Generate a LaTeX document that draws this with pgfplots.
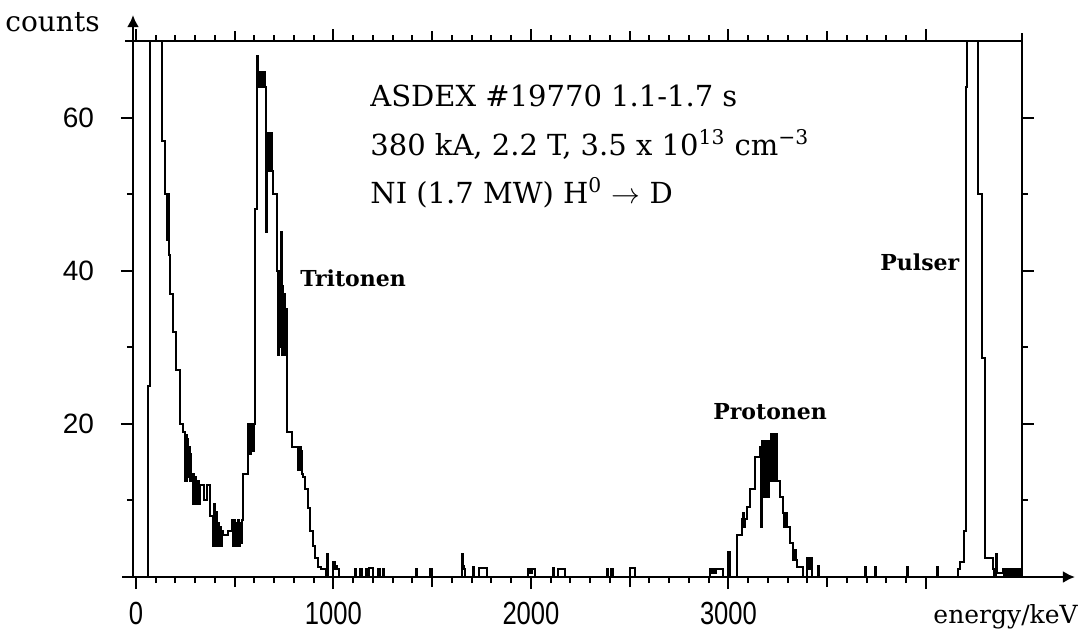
\documentclass[border=0pt]{standalone}
\usepackage{fontspec}
\setmainfont{DejaVu Serif}
\newfontfamily\ticksans{Liberation Sans}
\newfontfamily\ticksanscond[FakeStretch=0.8]{Liberation Sans}
\usepackage{pgfplots}
\usepackage{pgfplotstable}
\pgfplotsset{compat=1.18}
\usetikzlibrary{arrows.meta}

% Pulse-height spectrum: left edge of each channel group (keV) and counts
\pgfplotstableread{
E N
-15 0
62 25
71 90
132 57
147 50
157 44
160 50
163 44
166 50
169 42
172 37
187 32
203 27
223 20
238 19
248 12.5
252 18.5
256 12.5
260 18
264 13
268 17
272 12.5
276 16
280 12.5
284 13.5
288 9.5
292 13.5
296 10
300 13
304 9.5
308 12.5
312 10
316 12.5
320 9.5
324 12
345 10
360 12
375 8
390 4
395 9.5
400 4
405 8.5
410 4
415 7
420 4
425 6.5
430 4
435 6
440 5.5
465 6
486 7.5
491 4
496 7.5
501 4
506 7
511 4
516 7.5
521 4
526 7
531 4.5
536 7.5
542 13.5
567 20
571 16
575 20
579 16
583 20
587 16.5
591 20
595 16.5
599 20
603 48
613 68
620 64
624 66
628 64
632 66
636 64
640 66
644 64
648 66
652 64
656 45
661 58
665 53
669 58
673 53
677 57.5
681 53
685 58
689 53
694 50
714 40
719 29
723 40
727 30
731 39
735 45
739 29
743 38
747 30
751 37
755 29
759 35
763 30
767 19
792 17
818 14
822 17
826 14
830 17
834 14
838 16.5
842 13.5
846 13
858 11.5
870 9
883 6
896 4
909 2.5
922 1.3
935 1
962 0
966 3
971 0
997 2
1001 1
1005 2
1009 1
1013 1.5
1017 1
1030 0
1109 1
1116 0
1135 1
1145 0
1165 1
1172 0
1180 1.2
1200 0
1225 1
1235 0
1250 1
1258 0
1418 1
1425 0
1490 1
1497 0
1651 3
1656 1.5
1662 1
1668 0
1706 1.3
1712 0
1735 1.2
1775 0
1985 1
1990 0.5
1995 1
2000 0.5
2005 1
2020 0
2111 1.2
2117 0
2135 1
2172 0
2385 1
2391 0
2405 1
2415 0
2501 1.2
2527 0
2906 1
2910 0.5
2915 1
2920 0.5
2925 1
2930 0.5
2935 1
2972 0
3000 3.3
3006 0
3045 5.5
3067 7.6
3072 8.3
3077 6.5
3082 7.6
3092 9.2
3109 11.5
3134 15.7
3159 17
3164 6.5
3168 17
3172 17.8
3176 10.4
3180 17.8
3185 10.4
3189 17.8
3193 10.4
3197 17.8
3201 10.4
3206 17.8
3210 12.6
3214 18.7
3218 12.6
3222 18.7
3226 12.6
3230 18.7
3234 12.6
3238 18.7
3244 12.6
3260 10.4
3277 8.3
3281 6.5
3285 8.3
3289 6.5
3293 8.3
3298 6.5
3310 4.4
3328 2.2
3335 3.5
3340 2.2
3345 1.3
3379 0
3396 2.5
3400 1
3404 2.5
3408 1
3412 2.5
3421 0
3452 1.5
3457 0
3691 1.3
3696 0
3742 1.3
3747 0
3904 1.3
3909 0
4056 1.3
4061 0
4160 1
4172 2
4190 6
4200 31
4205 64
4210 90
4262 50
4282 28.6
4299 2.5
4339 1
4345 0
4355 3
4360 0.5
4390 1
4394 0
4398 1
4402 0
4406 1
4410 0
4414 1
4418 0
4422 1
4426 0
4430 1
4434 0
4438 1
4442 0
4446 1
4450 0
4454 1
4458 0
4462 1
4466 0
4470 1
4476 0
4486 0
}\spectrum

\begin{document}
\begin{tikzpicture}
\begin{axis}[
  at={(0pt,0pt)}, anchor=south west,
  scale only axis,
  width=444.5pt, height=268pt,
  xmin=-15, xmax=4486,
  ymin=0, ymax=70,
  clip mode=individual,
  axis line style={line width=1.2pt},
  every tick/.style={black, line width=1pt},
  tick align=outside,
  xtick pos=both, ytick pos=both,
  xtick={0,1000,2000,3000,4000},
  xticklabels={0,1000,2000,3000,},
  minor x tick num=9,
  extra x ticks={500,1500,2500,3500},
  extra x tick labels={},
  extra x tick style={major tick length=5pt},
  ytick={20,40,60},
  yticklabels={20,40,60},
  minor ytick={10,30,50},
  major tick length=6pt,
  minor tick length=3pt,
  xticklabel style={font=\ticksanscond\fontsize{16}{16}\selectfont, anchor=north, inner sep=0pt, yshift=-6.5pt},
  yticklabel style={font=\ticksans\fontsize{14}{14}\selectfont, anchor=east, xshift=-10pt},
]
\addplot[const plot, black, line width=1pt] table[x=E, y=N] {\spectrum};

% axis arrows and small overhangs of the frame
\draw[line width=1.2pt, -{Latex[length=6pt,width=6pt]}] (rel axis cs:0,1) -- ++(0pt,13pt);
\draw[line width=1.2pt, -{Latex[length=6pt,width=6pt]}] (rel axis cs:1,0) -- ++(26.5pt,0pt);
\draw[line width=1.2pt] (rel axis cs:0,0) -- ++(-5.5pt,0pt);
\draw[line width=1.2pt] (rel axis cs:0,1) -- ++(-4pt,0pt);
\draw[line width=1.2pt] (rel axis cs:1,1) -- ++(0pt,4pt);

% annotations
\node[anchor=base west, inner sep=0pt, font=\fontsize{14.5}{14.5}\selectfont] at (axis cs:1185,61.4) {ASDEX \#19770 1.1-1.7 s};
\node[anchor=base west, inner sep=0pt, font=\fontsize{14.5}{14.5}\selectfont] at (axis cs:1185,55.1) {380 kA, 2.2 T, 3.5 x 10\textsuperscript{13} cm\textsuperscript{−3}};
\node[anchor=base west, inner sep=0pt, font=\fontsize{14.5}{14.5}\selectfont] at (axis cs:1185,48.8) {NI (1.7 MW) H\textsuperscript{0} $\rightarrow$ D};
\node[anchor=base west, inner sep=0pt, font=\bfseries\fontsize{11}{11}\selectfont] at (axis cs:830,37.9) {Tritonen};
\node[anchor=base west, inner sep=0pt, font=\bfseries\fontsize{11}{11}\selectfont] at (axis cs:2921,20.6) {Protonen};
\node[anchor=base west, inner sep=0pt, font=\bfseries\fontsize{11}{11}\selectfont] at (axis cs:3767,40.0) {Pulser};
\node[anchor=base west, inner sep=0pt, font=\fontsize{14}{14}\selectfont] at (axis cs:-663,71.2) {counts};
\node[anchor=base east, inner sep=0pt, font=\fontsize{12.5}{12.5}\selectfont] at (axis cs:4770,-6.1) {energy/keV};
\end{axis}
\pgfresetboundingbox
\path[use as bounding box] (-66.5pt,-28.5pt) rectangle (475.5pt,288.5pt);
\end{tikzpicture}
\end{document}
